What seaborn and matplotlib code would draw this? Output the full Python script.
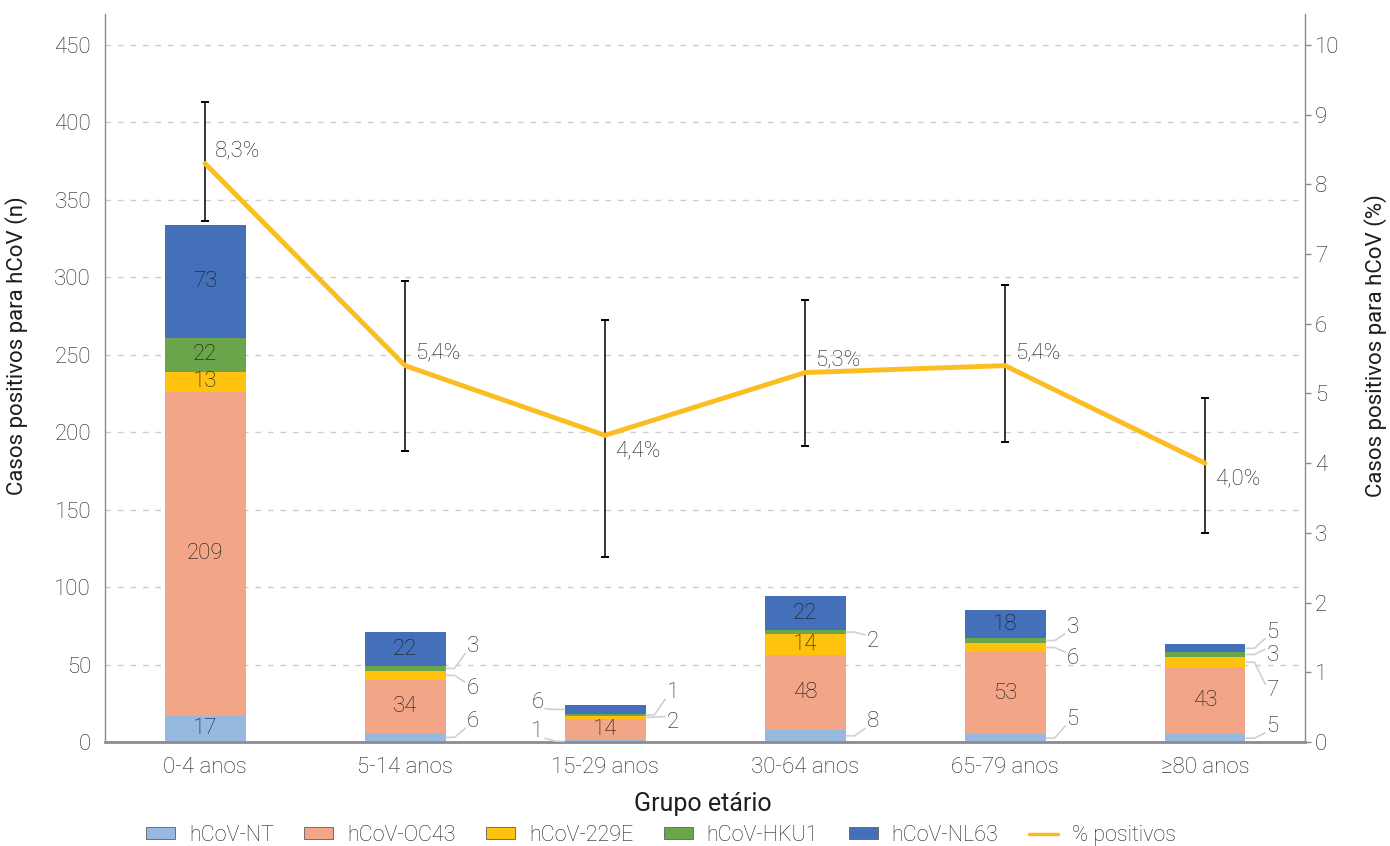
import numpy as np
import pandas as pd
import seaborn as sns
import matplotlib.pyplot as plt
from matplotlib.patches import Patch
from matplotlib.lines import Line2D

# Data
age_groups = ["0-4 anos", "5-14 anos", "15-29 anos", "30-64 anos", "65-79 anos", "≥80 anos"]
series_names = ["hCoV-NT", "hCoV-OC43", "hCoV-229E", "hCoV-HKU1", "hCoV-NL63"]
hcov_nt = [17, 6, 1, 8, 5, 5]
hcov_oc43 = [209, 34, 14, 48, 53, 43]
hcov_229e = [13, 6, 2, 14, 6, 7]
hcov_hku1 = [22, 3, 1, 2, 3, 3]
hcov_nl63 = [73, 22, 6, 22, 18, 5]
pct_positive = [8.3, 5.4, 4.4, 5.3, 5.4, 4.0]
ci_low = [7.47, 4.18, 2.66, 4.25, 4.31, 3.00]
ci_high = [9.18, 6.62, 6.06, 6.34, 6.55, 4.94]

colors = ["#97B9E0", "#F2A687", "#FEC20F", "#6BA54B", "#4470BA"]
line_color = "#FBBD22"
text_color = "#1E1E1E"

sns.set_theme(style="white")
plt.rcParams["font.family"] = ["Roboto", "DejaVu Sans"]
plt.rcParams["font.weight"] = "light"

fig = plt.figure(figsize=(13.9, 8.46), dpi=100)
ax = fig.add_axes([105 / 1390, 1 - 742 / 846, 1200 / 1390, 728 / 846])

counts = np.array([hcov_nt, hcov_oc43, hcov_229e, hcov_hku1, hcov_nl63])
tops = counts.cumsum(axis=0)
bottoms = tops - counts

# Stacked bars: draw cumulative heights from the top layer down
for k in range(len(series_names) - 1, -1, -1):
    df = pd.DataFrame({"grupo": age_groups, "n": tops[k]})
    sns.barplot(data=df, x="grupo", y="n", order=age_groups, color=colors[k],
                saturation=1, width=0.405, ax=ax, linewidth=0, errorbar=None)

ax.set_xlim(-0.5, 5.5)
ax.set_ylim(0, 470)
ax.set_yticks(np.arange(0, 451, 50))
ax.yaxis.grid(True, linestyle=(0, (4, 5)), color="#CCCCCC", linewidth=1)
ax.set_axisbelow(True)

for s in ["top", "right"]:
    ax.spines[s].set_visible(False)
ax.spines["left"].set_color("#8C8C8C")
ax.spines["left"].set_linewidth(1)
ax.spines["bottom"].set_color("#8C8C8C")
ax.spines["bottom"].set_linewidth(2)

ax.tick_params(axis="y", length=0, pad=10, labelsize=16, labelcolor=text_color)
ax.set_xticks(range(6))
ax.set_xticklabels(age_groups)
ax.tick_params(axis="x", which="major", length=0, pad=11, labelsize=16, labelcolor=text_color)
ax.set_xticks(np.arange(-0.5, 5.6, 1), minor=True)
ax.tick_params(axis="x", which="minor", length=7, width=1, color="#8C8C8C", direction="out")

ax.set_xlabel("Grupo etário", fontsize=18, color=text_color)
ax.xaxis.set_label_coords(0.498, -0.068)
ax.set_ylabel("Casos positivos para hCoV (n)", fontsize=16, color=text_color)
ax.yaxis.set_label_coords(-0.064, 0.545)

# Labels inside bars for larger segments
for k in range(len(series_names)):
    for i in range(len(age_groups)):
        v = counts[k, i]
        if v >= 10:
            ax.text(i, bottoms[k, i] + v / 2, str(v), ha="center", va="center",
                    fontsize=16, color="#1A1A1A")

# Labels with leader lines for small segments: (group, series) -> (side, label y)
outside_labels = {
    (1, 3): ("r", 61.5), (1, 2): ("r", 34.5), (1, 0): ("r", 13.0),
    (2, 4): ("l", 25.5), (2, 0): ("l", 6.5), (2, 3): ("r", 32.0), (2, 2): ("r", 12.5),
    (3, 3): ("r", 65.0), (3, 0): ("r", 13.0),
    (4, 3): ("r", 74.0), (4, 2): ("r", 54.0), (4, 0): ("r", 14.5),
    (5, 4): ("r", 71.0), (5, 3): ("r", 56.0), (5, 2): ("r", 33.0), (5, 0): ("r", 10.0),
}
half_w = 0.405 / 2
for (i, k), (side, ly) in outside_labels.items():
    v = counts[k, i]
    ymid = bottoms[k, i] + v / 2
    sgn = 1 if side == "r" else -1
    x0 = i + sgn * half_w
    x1 = x0 + sgn * 0.045
    x2 = i + sgn * (half_w + 0.1)
    y2 = ly - 4 if ly > ymid else ly + 4
    ax.plot([x0, x1, x2], [ymid, ymid, y2], color="#D0D0D0", lw=1.2,
            solid_capstyle="butt", zorder=3)
    ax.text(i + sgn * (half_w + 0.105), ly, str(v), ha="left" if sgn > 0 else "right",
            va="center", fontsize=16, color=text_color)

# Percentage of positives on the secondary axis
ax2 = ax.twinx()
ax2.set_ylim(0, 470 / 45)
ax2.set_yticks(range(0, 11))
pos = np.arange(len(age_groups))
pct = np.array(pct_positive)
ax2.errorbar(pos, pct, yerr=[pct - np.array(ci_low), np.array(ci_high) - pct],
             fmt="none", ecolor="black", elinewidth=1.1, capsize=3, capthick=1.4, zorder=2)
sns.lineplot(x=pos, y=pct, ax=ax2, color=line_color, linewidth=3.5, sort=False, zorder=3)

label_below = [False, False, True, False, False, True]
for i, p in enumerate(pct_positive):
    dy = -0.23 if label_below[i] else 0.18
    ax2.text(i + 0.05, p + dy, f"{p:.1f}".replace(".", ",") + "%", ha="left", va="center",
             fontsize=16, color=text_color)

for s in ["top", "left", "bottom"]:
    ax2.spines[s].set_visible(False)
ax2.spines["right"].set_color("#8C8C8C")
ax2.spines["right"].set_linewidth(1)
ax2.tick_params(axis="y", length=4, width=1, color="#8C8C8C", pad=3,
                labelsize=16, labelcolor=text_color, right=True, direction="out")
ax2.set_ylabel("Casos positivos para hCoV (%)", fontsize=16, color=text_color)
ax2.yaxis.set_label_coords(1.049, 0.545)

# Legend
handles = [Patch(facecolor=c, edgecolor="#6E6E6E", linewidth=0.7) for c in colors]
handles.append(Line2D([0], [0], color=line_color, lw=2.5))
labels = series_names + ["% positivos"]
fig.legend(handles, labels, loc="center", bbox_to_anchor=(661 / 1390, 1 - 835 / 846),
           ncol=6, frameon=False, fontsize=15.5, handlelength=1.35, handleheight=0.5,
           handletextpad=0.65, columnspacing=1.4, labelcolor=text_color)

fig.savefig("out.png", dpi=100)
